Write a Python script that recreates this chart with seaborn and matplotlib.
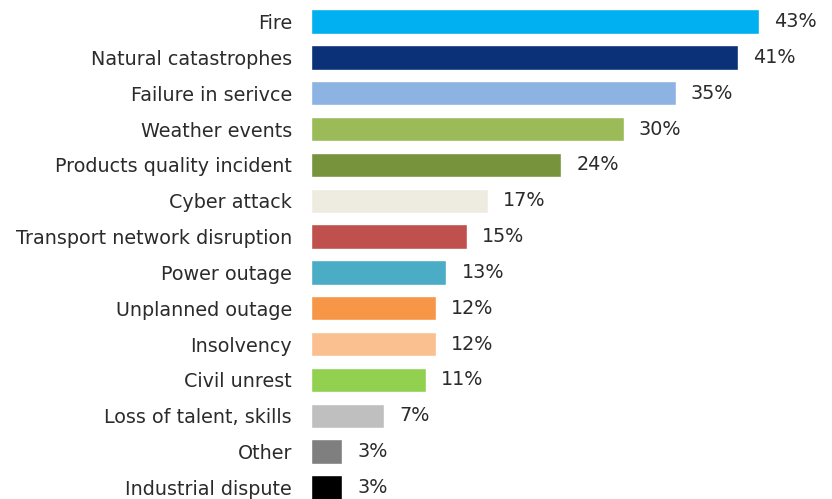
import matplotlib
matplotlib.use("Agg")
import matplotlib.pyplot as plt
import seaborn as sns
import pandas as pd

# Data
categories = ["Fire", "Natural catastrophes", "Failure in serivce", "Weather events",
              "Products quality incident", "Cyber attack", "Transport network disruption",
              "Power outage", "Unplanned outage", "Insolvency", "Civil unrest",
              "Loss of talent, skills", "Other", "Industrial dispute"]
values = [43, 41, 35, 30, 24, 17, 15, 13, 12, 12, 11, 7, 3, 3]
bar_colors = ["#00B0F0", "#0B3178", "#8DB3E2", "#9BBB59", "#77933C", "#EEECE1", "#C0504D",
              "#4BACC6", "#F79646", "#FAC090", "#92D050", "#BFBFBF", "#7F7F7F", "#000000"]

df = pd.DataFrame({"category": categories, "value": values})

sns.set_style("white")
plt.rcParams["font.family"] = ["DejaVu Sans"]

fig = plt.figure(figsize=(8.32, 4.99), dpi=100)
ax = fig.add_axes([0.3738, 0.0, 0.5637, 1.0])

sns.barplot(data=df, x="value", y="category", hue="category",
            palette=dict(zip(categories, bar_colors)), legend=False,
            width=0.68, ax=ax, saturation=1)

# value labels
for i, v in enumerate(values):
    ax.annotate(f"{v}%", xy=(v, i), xytext=(10.8, 0), textcoords="offset points",
                va="center", ha="left", fontsize=13.8, color="#2b2b2b")

ax.set_xlim(0, 45)
ax.set_ylim(13.32, -0.6)
ax.set_xlabel("")
ax.set_ylabel("")
ax.set_xticks([])
ax.tick_params(axis="y", length=0, pad=13.7, labelsize=13.8, labelcolor="#2b2b2b")
for s in ax.spines.values():
    s.set_visible(False)

fig.savefig("out.png", dpi=100)
